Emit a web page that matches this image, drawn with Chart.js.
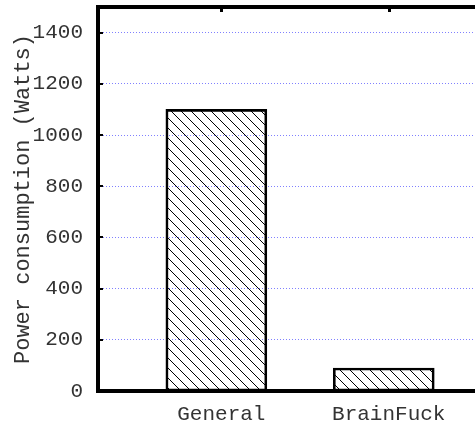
<!DOCTYPE html>
<html>
<head>
<meta charset="utf-8">
<script src="https://cdn.jsdelivr.net/npm/chart.js@4.4.0/dist/chart.umd.min.js"></script>
<style>
  html, body { margin: 0; padding: 0; background: #fff; overflow: hidden; }
  #wrap { width: 475px; height: 424px; }
</style>
</head>
<body>
<div id="wrap"><canvas id="powerChart" width="475" height="424"></canvas></div>
<script>
// data
var categories = ['General', 'BrainFuck'];
var powerWatts = [1100, 90];
var yTickValues = [0, 200, 400, 600, 800, 1000, 1200, 1400];
var yMax = 1500;

// hatch fill like gnuplot pattern
function makeHatch() {
    var s = 10;
    var c = document.createElement('canvas');
    c.width = s; c.height = s;
    var g = c.getContext('2d');
    g.strokeStyle = '#000';
    g.lineWidth = 1;
    g.beginPath();
    g.moveTo(-1, -1); g.lineTo(s + 1, s + 1);
    g.moveTo(-1, s - 1); g.lineTo(1, s + 1);
    g.moveTo(s - 1, -1); g.lineTo(s + 1, 1);
    g.stroke();
    return g.createPattern(c, 'repeat');
}

// frame: top border, inward ticks on left axis and on top
var framePlugin = {
    id: 'frame',
    afterDraw: function(chart) {
        var ctx = chart.ctx;
        var area = chart.chartArea;
        var x = chart.scales.x, y = chart.scales.y;
        ctx.save();
        ctx.fillStyle = '#000';
        ctx.fillRect(area.left - 2, area.top - 2, area.right - area.left + 2, 4);
        yTickValues.forEach(function(v) {
            if (v === 0) return;
            var py = Math.round(y.getPixelForValue(v));
            ctx.fillRect(area.left, py - 1, 5, 2);
        });
        categories.forEach(function(c, i) {
            var px = Math.round(x.getPixelForValue(i)) + 5;
            ctx.fillRect(px - 1, area.top, 3, 5);
        });
        ctx.restore();
    }
};

var ctx = document.getElementById('powerChart').getContext('2d');
new Chart(ctx, {
    type: 'bar',
    data: {
        datasets: [{
            data: powerWatts.map(function(v, i) { return { x: i, y: v }; }),
            backgroundColor: makeHatch(),
            borderColor: '#000',
            borderWidth: 2,
            borderSkipped: false,
            barThickness: 101
        }]
    },
    options: {
        responsive: false,
        animation: false,
        layout: { padding: { top: 7, right: 0, left: 0, bottom: 0 } },
        plugins: {
            legend: { display: false },
            tooltip: { enabled: false }
        },
        scales: {
            x: {
                type: 'linear',
                offset: false,
                min: -0.707,
                max: 1.545,
                afterFit: function(scale) {
                    scale.height = 33;
                    scale.paddingLeft = 0;
                    scale.paddingRight = 0;
                },
                afterBuildTicks: function(scale) {
                    scale.ticks = categories.map(function(c, i) { return { value: i }; });
                },
                grid: { display: false, drawTicks: false },
                border: { display: true, color: '#000', width: 4 },
                ticks: {
                    padding: 11,
                    labelOffset: 5,
                    color: '#333',
                    font: { family: 'Liberation Mono', size: 21 },
                    callback: function(v) { return categories[v]; }
                }
            },
            y: {
                min: 0,
                max: yMax,
                afterFit: function(scale) {
                    scale.width = 98;
                    scale.paddingTop = 0;
                    scale.paddingBottom = 0;
                },
                afterBuildTicks: function(scale) {
                    scale.ticks = yTickValues.map(function(v) { return { value: v }; });
                },
                grid: {
                    color: '#8080ff',
                    lineWidth: function(c) { return c.tick && c.tick.value === 0 ? 0 : 1; },
                    drawTicks: false
                },
                border: { display: true, color: '#000', width: 4, dash: [1, 2] },
                ticks: {
                    padding: 15,
                    color: '#333',
                    font: { family: 'Liberation Mono', size: 21 },
                    callback: function(v) { return String(v); }
                },
                title: {
                    display: true,
                    text: 'Power consumption (Watts)',
                    color: '#333',
                    padding: { top: 10, bottom: 0 },
                    font: { family: 'Liberation Mono', size: 22, weight: 'normal' }
                }
            }
        }
    },
    plugins: [framePlugin]
});
</script>
</body>
</html>
